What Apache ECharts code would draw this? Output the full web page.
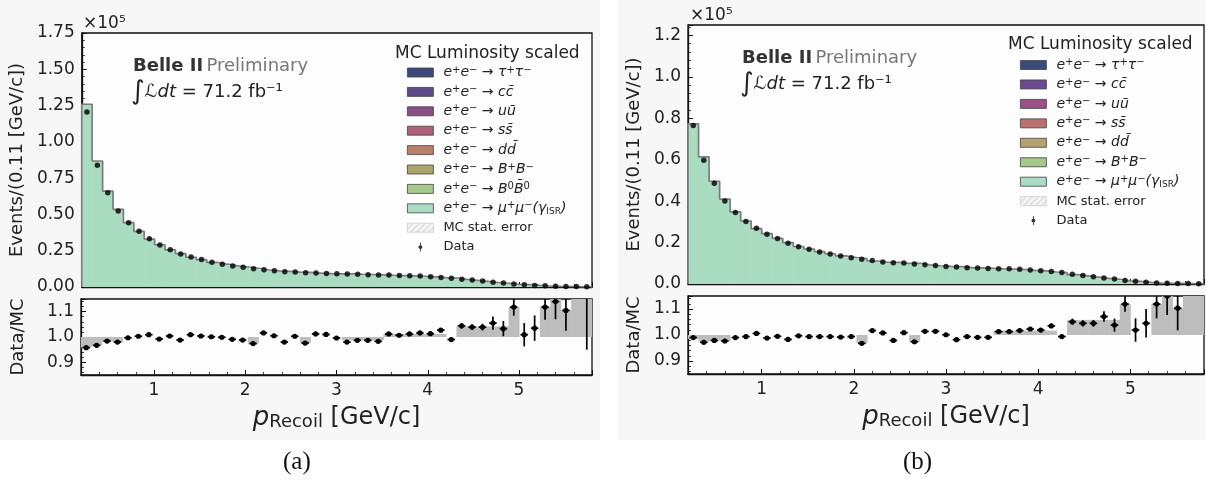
<!DOCTYPE html>
<html><head><meta charset="utf-8">
<script src="https://cdn.jsdelivr.net/npm/echarts@6/dist/echarts.min.js"></script>
<style>
html,body{margin:0;padding:0;background:#fff;width:1206px;height:489px;overflow:hidden}
#pa,#pb{position:absolute;top:0;width:603px;height:489px}
#pa{left:0}#pb{left:603px}
</style></head><body>
<div id="pa"></div><div id="pb"></div>
<script>
// ---------- binning ----------
const histRange = [0.2, 5.8];
const nBins = 49;

// ---------- panel (a) ----------
const dataA = [1.206,0.839,0.650,0.524,0.443,0.384,0.333,0.289,0.257,0.227,
 0.207,0.189,0.170,0.157,0.145,0.136,0.126,0.119,0.112,0.105,
 0.103,0.099,0.096,0.093,0.091,0.089,0.087,0.085,0.083,0.082,
 0.080,0.078,0.075,0.071,0.066,0.061,0.054,0.048,0.041,0.033,
 0.027,0.021,0.016,0.011,0.008,0.005,0.004,0.003,0.002];
const mcA = [1.259,0.868,0.661,0.535,0.444,0.383,0.330,0.291,0.256,0.230,
 0.205,0.188,0.170,0.157,0.146,0.138,0.129,0.117,0.111,0.107,
 0.103,0.101,0.095,0.092,0.091,0.091,0.088,0.086,0.084,0.081,
 0.079,0.077,0.074,0.070,0.064,0.062,0.052,0.046,0.039,0.031,
 0.026,0.019,0.016,0.011,0.007,0.0044,0.0036,0.0023,0.0016];
const ratioA = [0.958,0.967,0.984,0.980,0.997,1.003,1.009,0.992,1.004,0.988,
 1.009,1.004,1.001,0.999,0.991,0.988,0.974,1.016,1.005,0.980,
 1.003,0.976,1.012,1.010,0.996,0.980,0.987,0.987,0.983,1.012,
 1.007,1.012,1.016,1.013,1.027,0.990,1.044,1.039,1.039,1.055,
 1.033,1.118,1.009,1.035,1.118,1.140,1.105,1.300,1.250];
const ratioErrA = [0.007,0.007,0.007,0.007,0.007,0.007,0.007,0.007,0.007,0.007,
 0.007,0.007,0.007,0.007,0.007,0.007,0.007,0.007,0.007,0.007,
 0.007,0.007,0.007,0.007,0.007,0.007,0.007,0.007,0.007,0.008,
 0.008,0.008,0.008,0.008,0.008,0.008,0.011,0.011,0.013,0.026,
 0.030,0.034,0.046,0.050,0.050,0.070,0.080,0.100,0.300];
const bandLoA = [0.958,0.967,0.984,0.980,null,null,null,null,null,null,
 null,null,null,null,null,null,0.974,null,null,null,
 null,0.976,null,null,null,0.987,0.987,0.987,0.987,1.0,
 1.0,1.0,1.0,1.0,1.0,null,1.0,1.0,1.0,1.0,
 1.0,1.0,null,null,1.0,1.0,1.0,1.0,1.0];
const bandHiA = [1.0,1.0,1.0,1.0,null,null,null,null,null,null,
 null,null,null,null,null,null,1.0,null,null,null,
 null,1.0,null,null,null,1.0,1.0,1.0,1.0,1.012,
 1.012,1.012,1.012,1.012,1.012,null,1.042,1.042,1.042,1.042,
 1.042,1.118,null,null,1.118,1.150,1.105,1.150,1.150];
const compNamesA = ['e⁺e⁻ → τ⁺τ⁻','e⁺e⁻ → cc\u0304','e⁺e⁻ → uū','e⁺e⁻ → ss\u0304','e⁺e⁻ → dd\u0304','e⁺e⁻ → B⁺B⁻','e⁺e⁻ → B⁰B\u0304⁰','e⁺e⁻ → μ⁺μ⁻(γISR)'];
const compColorsA = ['#3b4a7a','#5e4b8a','#8a4f86','#b0607a','#b9806a','#a9a56d','#a5c98c','#a9dcc0'];

// ---------- panel (b) ----------
const dataB = [0.765,0.597,0.486,0.401,0.345,0.302,0.269,0.240,0.219,0.197,
 0.180,0.168,0.155,0.145,0.135,0.127,0.119,0.113,0.106,0.102,
 0.101,0.097,0.093,0.089,0.085,0.082,0.079,0.077,0.075,0.074,
 0.073,0.071,0.068,0.064,0.060,0.055,0.047,0.041,0.035,0.029,
 0.024,0.017,0.013,0.008,0.005,0.004,0.003,0.002,0.001];
const mcB = [0.773,0.614,0.496,0.410,0.348,0.304,0.267,0.243,0.220,0.200,
 0.181,0.169,0.156,0.146,0.136,0.128,0.123,0.111,0.105,0.104,
 0.100,0.100,0.092,0.088,0.085,0.084,0.079,0.078,0.076,0.073,
 0.072,0.070,0.066,0.063,0.058,0.055,0.045,0.039,0.033,0.027,
 0.023,0.015,0.013,0.008,0.0045,0.0035,0.0027,0.0018,0.0009];
const ratioB = [0.990,0.972,0.979,0.977,0.990,0.994,1.006,0.988,0.995,0.983,
 0.997,0.994,0.994,0.994,0.992,0.994,0.968,1.017,1.008,0.979,
 1.009,0.974,1.014,1.014,1.001,0.982,0.994,0.991,0.991,1.013,
 1.013,1.017,1.023,1.019,1.035,0.994,1.051,1.045,1.045,1.071,
 1.038,1.119,1.019,1.045,1.119,1.150,1.103,1.300,1.300];
const ratioErrB = [0.007,0.007,0.007,0.007,0.007,0.007,0.007,0.007,0.007,0.007,
 0.007,0.007,0.007,0.007,0.007,0.007,0.007,0.007,0.007,0.007,
 0.007,0.007,0.007,0.007,0.007,0.007,0.007,0.007,0.007,0.008,
 0.008,0.008,0.008,0.008,0.008,0.008,0.012,0.012,0.013,0.020,
 0.025,0.030,0.045,0.055,0.055,0.073,0.085,0.100,0.100];
const bandLoB = [0.985,0.975,0.979,0.977,null,null,null,null,null,null,
 null,null,null,null,null,null,0.968,null,null,null,
 null,0.974,null,null,null,null,null,null,null,1.0,
 1.0,1.0,1.0,1.0,1.0,null,1.0,1.0,1.0,1.0,
 1.0,1.0,null,null,1.0,1.0,1.0,1.0,1.0];
const bandHiB = [1.0,1.0,1.0,1.0,null,null,null,null,null,null,
 null,null,null,null,null,null,1.0,null,null,null,
 null,1.0,null,null,null,null,null,null,null,1.017,
 1.017,1.017,1.017,1.017,1.017,null,1.058,1.058,1.058,1.058,
 1.058,1.119,null,null,1.119,1.150,1.103,1.150,1.150];
const compNamesB = ['e⁺e⁻ → τ⁺τ⁻','e⁺e⁻ → cc\u0304','e⁺e⁻ → uū','e⁺e⁻ → ss\u0304','e⁺e⁻ → dd\u0304','e⁺e⁻ → B⁺B⁻','e⁺e⁻ → μ⁺μ⁻(γISR)'];
const compColorsB = ['#3b4a7a','#6a4a8c','#9b4f82','#b8716c','#b3a272','#a6c98b','#a9dcc0'];

const FONT = 'DejaVu Sans';
const INK = '#222';

function hatchCanvas(){
  const c = document.createElement('canvas'); c.width = 6; c.height = 6;
  const g = c.getContext('2d');
  g.fillStyle = '#f5f5f5'; g.fillRect(0,0,6,6);
  g.strokeStyle = '#c4c4c4'; g.lineWidth = 1;
  g.beginPath(); g.moveTo(-1,7); g.lineTo(7,-1); g.stroke();
  return c;
}

// turn a label with unicode superscripts into rich-text tokens (math-style)
function mathRich(name){
  const sup = {'⁺':'+','⁻':'−','⁰':'0'};
  let tail = '';
  if (name.endsWith('ISR)')) { name = name.slice(0, -4); tail = '{s|ISR}{i|)}'; }
  let out = '', buf = '';
  const flush = () => { if (buf) { out += '{i|' + buf + '}'; buf = ''; } };
  for (const ch of name) {
    if (sup[ch]) { flush(); out += '{u|' + sup[ch] + '}'; }
    else if (ch === '→') { flush(); out += '{a|→}'; }
    else buf += ch;
  }
  flush();
  return out + tail;
}

function buildPanel(el, cfg){
  const chart = echarts.init(el, null, {renderer:'canvas', width:603, height:489});
  const edges = [];
  for (let i = 0; i <= nBins; i++) edges.push(histRange[0] + (histRange[1]-histRange[0]) * i / nBins);
  const centers = edges.slice(0,-1).map((e,i) => (e + edges[i+1]) / 2);
  const halfW = (edges[1]-edges[0]) * 0.36;

  const muName = cfg.names[cfg.names.length-1];
  const histData = cfg.mc.map((v,i) => [edges[i], edges[i+1], v]);
  const outline = [[edges[0], 0]].concat(cfg.mc.map((v,i) => [edges[i], v]), [[edges[nBins], cfg.mc[nBins-1]]]);
  const bandData = [];
  cfg.bandLo.forEach((lo,i) => { if (lo !== null) bandData.push([edges[i], edges[i+1], lo, cfg.bandHi[i]]); });
  const ratioData = cfg.ratio.map((r,i) => [centers[i], r, cfg.err[i]]);

  const tickCommon = {inside:true, length:5, lineStyle:{color:'#111', width:1}};
  const minorCommon = {show:true, splitNumber:5, length:3, lineStyle:{color:'#111', width:0.8}};
  const lineCommon = {show:true, onZero:false, lineStyle:{color:'#111', width:1.3}};
  const lab = {fontFamily:FONT, fontSize:17, color:INK};

  const series = [];
  cfg.names.forEach((n,k) => {
    if (n === muName) return;
    series.push({name:n, type:'custom', xAxisIndex:0, yAxisIndex:0, data:[], renderItem:() => null,
      itemStyle:{color:cfg.colors[k]}});
  });
  series.push({name:muName, type:'custom', xAxisIndex:0, yAxisIndex:0, data:histData, z:2,
    itemStyle:{color:cfg.colors[cfg.colors.length-1]},
    renderItem:(p, api) => {
      const a = api.coord([api.value(0), api.value(2)]);
      const b = api.coord([api.value(1), 0]);
      return {type:'rect', shape:{x:a[0], y:a[1], width:b[0]-a[0]+0.6, height:b[1]-a[1]},
        style:{fill:api.visual('color')}};
    }});
  series.push({type:'line', xAxisIndex:0, yAxisIndex:0, step:'end', data:outline, symbol:'none', silent:true, z:3,
    lineStyle:{color:'#7d7d7d', width:1.7}});
  series.push({name:'MC stat. error', type:'custom', xAxisIndex:0, yAxisIndex:0, data:[], renderItem:() => null,
    itemStyle:{color:{image:hatchCanvas(), repeat:'repeat'}}});
  series.push({name:'Data', type:'scatter', xAxisIndex:0, yAxisIndex:0, z:4,
    data:centers.map((c,i) => [c, cfg.data[i]]), symbolSize:5.5, itemStyle:{color:'#000'}});
  series.push({type:'custom', xAxisIndex:1, yAxisIndex:1, data:bandData, clip:true, z:2,
    renderItem:(p, api) => {
      const a = api.coord([api.value(0), api.value(3)]);
      const b = api.coord([api.value(1), api.value(2)]);
      return {type:'rect', shape:{x:a[0], y:a[1], width:b[0]-a[0]+0.5, height:b[1]-a[1]},
        style:{fill:'#bdbdbd'}};
    }});
  series.push({type:'custom', xAxisIndex:1, yAxisIndex:1, data:ratioData, clip:true, z:5,
    renderItem:(p, api) => {
      const x = api.value(0), y = api.value(1), e = api.value(2);
      const c = api.coord([x, y]);
      const t = api.coord([x, y + e]), b = api.coord([x, y - e]);
      const l = api.coord([x - halfW, y]), r = api.coord([x + halfW, y]);
      return {type:'group', children:[
        {type:'line', shape:{x1:c[0], y1:t[1], x2:c[0], y2:b[1]}, style:{stroke:'#000', lineWidth:1.7}},
        {type:'line', shape:{x1:l[0], y1:c[1], x2:r[0], y2:c[1]}, style:{stroke:'#000', lineWidth:1.7}},
        {type:'circle', shape:{cx:c[0], cy:c[1], r:2.6}, style:{fill:'#000'}}
      ]};
    }});

  const legendData = cfg.names.map((n,k) => ({name:n, icon:'rect',
    itemStyle:{color:cfg.colors[k], borderColor:'#444', borderWidth:0.8}}));
  legendData.push({name:'MC stat. error', icon:'rect', itemStyle:{borderColor:'#cfcfcf', borderWidth:0.8}});
  legendData.push({name:'Data', icon:'path://M4.4,0L5.6,0L5.6,12L4.4,12Z M5,3.4A2.6,2.6 0 1 1 4.99,3.4Z', itemStyle:{color:'#000'}});

  const option = {
    animation:false,
    textStyle:{fontFamily:FONT},
    graphic:[
      {type:'rect', left:cfg.bg[0], top:cfg.bg[1], shape:{width:cfg.bg[2], height:cfg.bg[3]}, style:{fill:'#f7f7f7'}, z:-10, silent:true},
      {type:'text', left:cfg.exp[0], top:cfg.exp[1], style:{text:'×10⁵', fontSize:17, fontFamily:FONT, fill:INK}},
      {type:'text', left:cfg.belle[0], top:cfg.belle[1], style:{text:'{b|Belle II} {p|Preliminary}',
        rich:{b:{fontSize:18, fontWeight:'bold', fontFamily:FONT, fill:'#333'}, p:{fontSize:18, fontFamily:FONT, fill:'#777'}}}},
      {type:'text', left:cfg.belle[0]-2, top:cfg.belle[1]+22, style:{text:'{g|∫}{i|ℒdt}{n| = 71.2 fb⁻¹}',
        rich:{g:{fontSize:26, fontFamily:FONT, fill:INK}, i:{fontSize:18, fontStyle:'italic', fontFamily:FONT, fill:INK},
              n:{fontSize:18, fontFamily:FONT, fill:INK}}}},
      {type:'text', left:cfg.legTitle[0], top:cfg.legTitle[1], style:{text:'MC Luminosity scaled', fontSize:17, fontFamily:FONT, fill:INK}},
      {type:'text', left:cfg.tag[0], top:cfg.tag[1], style:{text:cfg.tagText, fontSize:25, fontFamily:'Liberation Serif', fill:'#111', align:'center'}}
    ],
    legend:{
      orient:'vertical', left:cfg.leg[0], top:cfg.leg[1], padding:0, selectedMode:false,
      itemWidth:26, itemHeight:9, itemGap:cfg.legGap, data:legendData,
      formatter:(n) => {
        if (n === 'MC stat. error' || n === 'Data') return '{n|' + n + '}';
        return mathRich(n);
      },
      textStyle:{color:INK, fontSize:13, lineHeight:15, padding:[0,0,0,5],
        rich:{i:{fontSize:14, fontStyle:'italic', fontFamily:FONT, color:INK, lineHeight:15},
              a:{fontSize:14, fontFamily:FONT, color:INK, lineHeight:15},
              u:{fontSize:10, fontFamily:FONT, color:INK, verticalAlign:'top', lineHeight:7},
              n:{fontSize:13, fontFamily:FONT, color:INK, lineHeight:15},
              s:{fontSize:9, fontFamily:FONT, color:INK, verticalAlign:'bottom', lineHeight:9}}}
    },
    grid:[
      {left:cfg.g1[0], top:cfg.g1[1], width:cfg.g1[2], height:cfg.g1[3], show:true, borderColor:'#111', borderWidth:1.3, backgroundColor:'#fdfdfd'},
      {left:cfg.g2[0], top:cfg.g2[1], width:cfg.g2[2], height:cfg.g2[3], show:true, borderColor:'#111', borderWidth:1.3, backgroundColor:'#fdfdfd'}
    ],
    xAxis:[
      {type:'value', gridIndex:0, min:histRange[0], max:histRange[1], splitNumber:5,
        axisLine:lineCommon, axisTick:tickCommon, minorTick:minorCommon, axisLabel:{show:false}, splitLine:{show:false}},
      {type:'value', gridIndex:1, min:histRange[0], max:histRange[1], splitNumber:5,
        axisLine:lineCommon, axisTick:tickCommon, minorTick:minorCommon, splitLine:{show:false},
        axisLabel:Object.assign({margin:7, showMinLabel:false, showMaxLabel:false, formatter:(v) => String(Math.round(v))}, lab),
        name:'{p|p}{s|Recoil}{u| [GeV/c]}', nameLocation:'middle', nameGap:30,
        nameTextStyle:{rich:{p:{fontSize:26, fontStyle:'italic', fontFamily:FONT, color:INK},
          s:{fontSize:18, fontFamily:FONT, color:INK, verticalAlign:'bottom', lineHeight:16},
          u:{fontSize:24, fontFamily:FONT, color:INK}}}}
    ],
    yAxis:[
      {type:'value', gridIndex:0, min:0, max:cfg.ymax, interval:cfg.yint,
        axisLine:lineCommon, axisTick:tickCommon, minorTick:minorCommon, splitLine:{show:false},
        axisLabel:Object.assign({margin:7, showMaxLabel:cfg.showYMax, formatter:(v) => v.toFixed(cfg.ydec)}, lab),
        name:'Events/(0.11 [GeV/c])', nameLocation:'middle', nameGap:cfg.nameGap,
        nameTextStyle:{fontSize:18, fontFamily:FONT, color:INK}},
      {type:'value', gridIndex:1, min:0.85, max:1.15, splitNumber:3,
        axisLine:lineCommon, axisTick:tickCommon, minorTick:minorCommon, splitLine:{show:false},
        axisLabel:Object.assign({margin:7, showMinLabel:false, showMaxLabel:false, formatter:(v) => v.toFixed(1)}, lab),
        name:'Data/MC', nameLocation:'middle', nameGap:cfg.nameGap,
        nameTextStyle:{fontSize:18, fontFamily:FONT, color:INK}}
    ],
    series:series
  };
  chart.setOption(option);
  return chart;
}

buildPanel(document.getElementById('pa'), {
  data:dataA, mc:mcA, ratio:ratioA, err:ratioErrA, bandLo:bandLoA, bandHi:bandHiA,
  names:compNamesA, colors:compColorsA,
  g1:[81,33,511,254], g2:[81,299,511,76], ymax:1.75, yint:0.25, ydec:2, showYMax:true, nameGap:54,
  bg:[0,0,600,440], exp:[83,15], belle:[133,57], legTitle:[395,45], leg:[407,65], legGap:4.4,
  tag:[283,450], tagText:'(a)'
});
buildPanel(document.getElementById('pb'), {
  data:dataB, mc:mcB, ratio:ratioB, err:ratioErrB, bandLo:bandLoB, bandHi:bandHiB,
  names:compNamesB, colors:compColorsB,
  g1:[85,25,516,259], g2:[85,296,516,78], ymax:1.25, yint:0.2, ydec:1, showYMax:false, nameGap:43,
  bg:[15,0,588,440], exp:[87,7], belle:[139,49], legTitle:[405,36], leg:[417,57.5], legGap:4.45,
  tag:[300,450], tagText:'(b)'
});
</script>
</body></html>
